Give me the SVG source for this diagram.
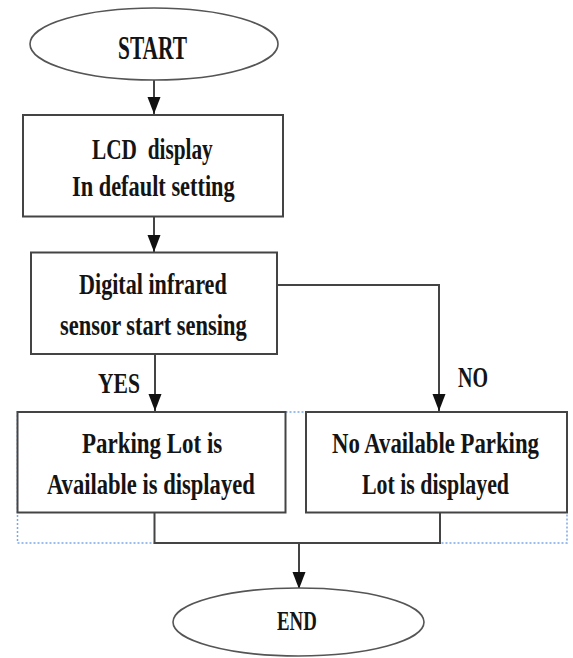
<svg xmlns="http://www.w3.org/2000/svg" width="573" height="658" viewBox="0 0 573 658">
<defs>
<marker id="arr" markerUnits="userSpaceOnUse" markerWidth="18" markerHeight="14" viewBox="0 0 18 14" refX="17" refY="7" orient="auto">
<path d="M0,0.5 L17,7 L0,13.5 z" fill="#111"/>
</marker>
</defs>
<style>
.box{fill:#fff;stroke:#444;stroke-width:2}
.term{fill:#fff;stroke:#555;stroke-width:1.6}
.t{font-family:"Liberation Serif","Times New Roman",serif;font-weight:bold;font-size:30px;fill:#141414}
.c{fill:none;stroke:#444;stroke-width:2}
.sel{fill:none;stroke:#7aa8e8;stroke-width:1.5;stroke-dasharray:2,2}
</style>
<rect class="sel" x="17.5" y="412" width="549.5" height="131"/>
<g id="connectors">
<path class="c" d="M154,80 V114" marker-end="url(#arr)"/>
<path class="c" d="M154,217 V252" marker-end="url(#arr)"/>
<path class="c" d="M155,354 V411" marker-end="url(#arr)"/>
<path class="c" d="M277,285 H439 V411" marker-end="url(#arr)"/>
<path class="c" d="M154.5,512 V543 H440 V512"/>
<path class="c" d="M299,543 V589" marker-end="url(#arr)"/>
</g>
<g id="start">
<ellipse class="term" cx="154" cy="44" rx="124" ry="36"/>
<text class="t" transform="translate(118,58.5) scale(0.75,1)" textLength="92" lengthAdjust="spacingAndGlyphs" style="font-size:33px">START</text>
</g>
<g id="lcd">
<rect class="box" x="23" y="115" width="260" height="101.5"/>
<text class="t" transform="translate(92,159) scale(0.75,1)" textLength="161" lengthAdjust="spacingAndGlyphs" style="white-space:pre">LCD  display</text>
<text class="t" transform="translate(72,195.5) scale(0.75,1)" textLength="217" lengthAdjust="spacingAndGlyphs">In default setting</text>
</g>
<g id="sensor">
<rect class="box" x="31" y="252.5" width="246" height="101.5"/>
<text class="t" transform="translate(79,294) scale(0.75,1)" textLength="197" lengthAdjust="spacingAndGlyphs">Digital infrared</text>
<text class="t" transform="translate(60,335) scale(0.75,1)" textLength="249" lengthAdjust="spacingAndGlyphs">sensor start sensing</text>
</g>
<g id="labels">
<text class="t" transform="translate(98,393) scale(0.75,1)" textLength="56" lengthAdjust="spacingAndGlyphs">YES</text>
<text class="t" transform="translate(458,387) scale(0.75,1)" textLength="40" lengthAdjust="spacingAndGlyphs">NO</text>
</g>
<g id="available">
<rect class="box" x="17.5" y="412" width="268" height="100.5"/>
<text class="t" transform="translate(82,453) scale(0.75,1)" textLength="187" lengthAdjust="spacingAndGlyphs">Parking Lot is</text>
<text class="t" transform="translate(47,494) scale(0.75,1)" textLength="277" lengthAdjust="spacingAndGlyphs">Available is displayed</text>
</g>
<g id="unavailable">
<rect class="box" x="306" y="412" width="261" height="100.5"/>
<text class="t" transform="translate(332,453) scale(0.75,1)" textLength="276" lengthAdjust="spacingAndGlyphs">No Available Parking</text>
<text class="t" transform="translate(362,494) scale(0.75,1)" textLength="196" lengthAdjust="spacingAndGlyphs">Lot is displayed</text>
</g>
<g id="end">
<ellipse class="term" cx="298.5" cy="622" rx="125.5" ry="34"/>
<text class="t" transform="translate(277,629.5) scale(0.75,1)" textLength="53" lengthAdjust="spacingAndGlyphs" style="font-size:27px">END</text>
</g>
</svg>
